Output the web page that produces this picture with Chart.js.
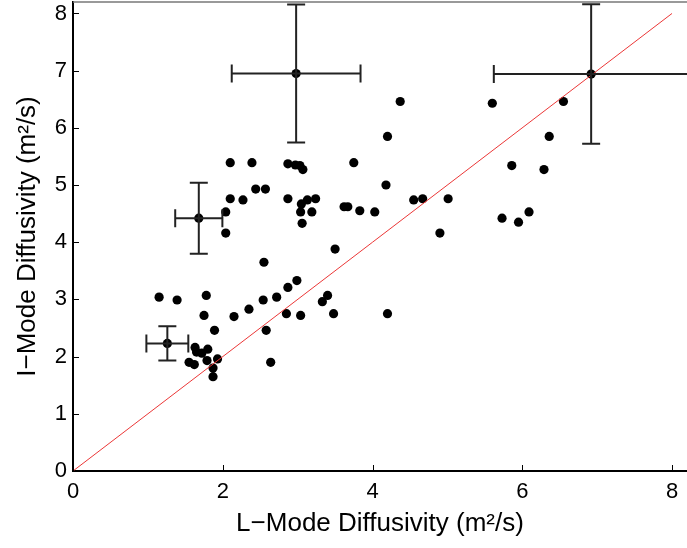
<!DOCTYPE html>
<html>
<head>
<meta charset="utf-8">
<script src="https://cdn.jsdelivr.net/npm/chart.js@4"></script>
<style>
  html, body { margin: 0; padding: 0; background: #fff; }
  #wrap { width: 687px; height: 548px; }
</style>
</head>
<body>
<div id="wrap"><canvas id="c" width="687" height="548"></canvas></div>
<script>
// ---- data ----
const lModeX = [
  2.10, 2.39, 2.87, 2.97, 3.03, 3.07, 3.75,
  2.44, 2.57, 2.10, 2.27, 2.87, 3.13, 3.24, 3.05, 3.04, 3.19, 3.06, 2.04, 2.04,
  3.62, 3.67, 3.83, 4.03, 3.50,
  4.37, 4.20, 4.18, 4.55, 4.67, 5.01, 4.90, 5.60, 6.55, 6.36, 5.86, 6.29, 5.73, 5.95, 6.09,
  2.55, 2.99, 2.87, 2.72, 2.54, 2.35, 2.15, 2.85, 3.04, 3.33, 3.40, 3.48,
  1.15, 1.39, 1.78, 1.75, 1.89, 2.58, 2.64,
  1.63, 1.65, 1.80, 1.72, 1.55, 1.62, 1.79, 1.93, 1.87, 1.87,
  4.20
];
const iModeY = [
  5.39, 5.39, 5.37, 5.35, 5.34, 5.27, 5.39,
  4.93, 4.93, 4.76, 4.74, 4.76, 4.74, 4.76, 4.67, 4.53, 4.53, 4.33, 4.53, 4.16,
  4.62, 4.62, 4.55, 4.53, 3.88,
  6.46, 5.85, 5.00, 4.74, 4.76, 4.76, 4.16, 6.43, 6.46, 5.85, 5.34, 5.27, 4.42, 4.35, 4.53,
  3.65, 3.33, 3.21, 3.04, 2.99, 2.83, 2.70, 2.75, 2.72, 2.96, 3.07, 2.75,
  3.04, 2.99, 3.07, 2.72, 2.46, 2.46, 1.90,
  2.16, 2.08, 2.13, 2.06, 1.90, 1.86, 1.93, 1.96, 1.80, 1.65,
  2.75
];

// points with error bars
const errX  = [2.98, 1.68, 6.92, 1.26];
const errY  = [6.95, 4.42, 6.94, 2.23];
const errDX = [0.86, 0.315, 1.30, 0.28];
const errDY = [1.205, 0.62, 1.22, 0.30];

// unity line
const unityX = [0, 8];
const unityY = [0, 8];

const xTicks = [0, 2, 4, 6, 8];
const yTicks = [0, 1, 2, 3, 4, 5, 6, 7, 8];

const FONT = "'Liberation Sans', Arial, Helvetica, sans-serif";

// error bars, drawn through the chart's scales
const errorBars = {
  id: 'errorBars',
  afterDatasetsDraw(chart) {
    const { ctx, chartArea: a, scales: { x, y } } = chart;
    const cap = 9;
    ctx.save();
    ctx.beginPath();
    ctx.rect(a.left, a.top, a.right - a.left, a.bottom - a.top);
    ctx.clip();
    ctx.strokeStyle = '#222';
    ctx.lineWidth = 2;
    errX.forEach((v, i) => {
      const px = x.getPixelForValue(v);
      const py = y.getPixelForValue(errY[i]);
      const x0 = x.getPixelForValue(v - errDX[i]);
      const x1 = x.getPixelForValue(v + errDX[i]);
      const y0 = y.getPixelForValue(errY[i] - errDY[i]);
      const y1 = y.getPixelForValue(errY[i] + errDY[i]);
      ctx.beginPath();
      ctx.moveTo(x0, py); ctx.lineTo(x1, py);
      ctx.moveTo(x0, py - cap); ctx.lineTo(x0, py + cap);
      ctx.moveTo(x1, py - cap); ctx.lineTo(x1, py + cap);
      ctx.moveTo(px, y0); ctx.lineTo(px, y1);
      ctx.moveTo(px - cap, y0); ctx.lineTo(px + cap, y0);
      ctx.moveTo(px - cap, y1); ctx.lineTo(px + cap, y1);
      ctx.stroke();
    });
    ctx.restore();
  }
};

// MATLAB style inward ticks + top box edge
const boxTicks = {
  id: 'boxTicks',
  afterDraw(chart) {
    const { ctx, chartArea: a, scales: { x, y } } = chart;
    ctx.save();
    ctx.strokeStyle = '#777';
    ctx.lineWidth = 1.5;
    ctx.beginPath();
    ctx.moveTo(a.left, a.top); ctx.lineTo(a.right, a.top);
    ctx.stroke();
    ctx.strokeStyle = '#000';
    ctx.lineWidth = 1;
    ctx.beginPath();
    xTicks.forEach(t => {
      const px = Math.round(x.getPixelForValue(t)) + 0.5;
      ctx.moveTo(px, a.bottom); ctx.lineTo(px, a.bottom - 6);
    });
    yTicks.forEach(t => {
      const py = Math.round(y.getPixelForValue(t)) + 0.5;
      ctx.moveTo(a.left, py); ctx.lineTo(a.left + 6, py);
    });
    ctx.stroke();
    ctx.restore();
  }
};

new Chart(document.getElementById('c'), {
  type: 'scatter',
  data: {
    datasets: [
      {
        type: 'line',
        data: unityX.map((v, i) => ({ x: v, y: unityY[i] })),
        borderColor: 'rgb(235,55,55)',
        borderWidth: 1,
        pointRadius: 0,
        fill: false
      },
      {
        data: lModeX.map((v, i) => ({ x: v, y: iModeY[i] })),
        backgroundColor: '#000',
        borderColor: '#000',
        borderWidth: 0,
        pointRadius: 4.6
      },
      {
        data: errX.map((v, i) => ({ x: v, y: errY[i] })),
        backgroundColor: '#000',
        borderColor: '#000',
        borderWidth: 0,
        pointRadius: 4.6
      }
    ]
  },
  options: {
    responsive: false,
    animation: false,
    layout: { autoPadding: false, padding: { top: 2, right: 0, left: 0, bottom: 0 } },
    plugins: { legend: { display: false }, tooltip: { enabled: false } },
    scales: {
      x: {
        type: 'linear',
        min: 0, max: 8.2,
        afterFit: s => { s.height = 77; s.paddingLeft = 0; s.paddingRight = 0; },
        afterBuildTicks: s => { s.ticks = xTicks.map(v => ({ value: v })); },
        ticks: { stepSize: 2, includeBounds: false, color: '#000', padding: 8,
                 font: { family: FONT, size: 22 } },
        grid: { drawOnChartArea: false, drawTicks: false },
        border: { color: '#000', width: 2 },
        title: { display: true, text: 'L\u2212Mode Diffusivity (m\u00b2/s)', color: '#000',
                 font: { family: FONT, size: 26 }, padding: { top: 0, bottom: 9 } }
      },
      y: {
        type: 'linear',
        min: 0, max: 8.2,
        afterFit: s => { s.width = 73; s.paddingTop = 0; s.paddingBottom = 0; },
        afterBuildTicks: s => { s.ticks = yTicks.map(v => ({ value: v })); },
        ticks: { stepSize: 1, includeBounds: false, color: '#000', padding: 6,
                 font: { family: FONT, size: 22 } },
        grid: { drawOnChartArea: false, drawTicks: false },
        border: { color: '#000', width: 2 },
        title: { display: true, text: 'I\u2212Mode Diffusivity (m\u00b2/s)', color: '#000',
                 font: { family: FONT, size: 26 }, padding: { top: 12, bottom: 0 } }
      }
    }
  },
  plugins: [errorBars, boxTicks]
});
</script>
</body>
</html>
